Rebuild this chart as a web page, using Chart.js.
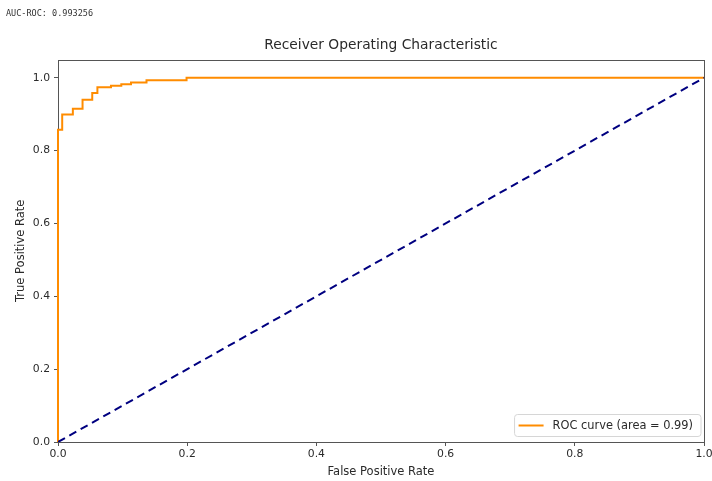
<!DOCTYPE html>
<html>
<head>
<meta charset="utf-8">
<script src="https://cdn.jsdelivr.net/npm/chart.js@4.4.0/dist/chart.umd.min.js"></script>
<style>
  html, body { margin: 0; padding: 0; background: #fff; }
  #wrap { position: relative; width: 712px; height: 481px; }
  #auc { position: absolute; left: 6px; top: 8px; font: 8.5px "DejaVu Sans Mono", monospace; color: #333; white-space: pre; }
  canvas { display: block; }
</style>
</head>
<body>
<div id="wrap">
  <div id="auc">AUC-ROC: 0.993256</div>
  <canvas id="roc" width="712" height="481"></canvas>
</div>
<script>
// ROC curve corners (horizontal then vertical between points)
const fpr = [0, 0, 0.0065, 0.023, 0.038, 0.053, 0.061, 0.082, 0.098, 0.113, 0.137, 0.199, 1.0];
const tpr = [0, 0.857, 0.899, 0.915, 0.940, 0.958, 0.974, 0.978, 0.982, 0.987, 0.993, 1.0, 1.0];
// chance line
const chanceX = [0, 1];
const chanceY = [0, 1];
const xTicks = [0, 0.2, 0.4, 0.6, 0.8, 1.0];
const yTicks = [0, 0.2, 0.4, 0.6, 0.8, 1.0];
const rocLabel = "ROC curve (area = 0.99)";

const FONT = '"DejaVu Sans", sans-serif';
const TXT = "#2a2a2a";
const AX = "#555";

// box around plot area, like matplotlib spines (drawn under the lines)
const frame = {
  id: "frame",
  beforeDatasetsDraw(chart) {
    const { ctx, chartArea: a } = chart;
    ctx.save();
    ctx.strokeStyle = AX;
    ctx.lineWidth = 1;
    ctx.strokeRect(Math.round(a.left) + 0.5, Math.round(a.top) + 0.5,
      Math.round(a.right - a.left), Math.round(a.bottom - a.top));
    ctx.restore();
  }
};

// legend in the lower right corner of the plot
const cornerLegend = {
  id: "cornerLegend",
  afterDraw(chart) {
    const { ctx, chartArea: a } = chart;
    const ds = chart.data.datasets[0];
    ctx.save();
    ctx.font = "11.4px " + FONT;
    const tw = ctx.measureText(ds.label).width;
    const w = tw + 46, h = 22;
    const x = a.right - 3 - w, y = a.bottom - 5.5 - h;
    ctx.beginPath();
    ctx.roundRect(x, y, w, h, 3);
    ctx.fillStyle = "rgba(255,255,255,0.85)";
    ctx.fill();
    ctx.strokeStyle = "#d6d6d6";
    ctx.lineWidth = 1;
    ctx.stroke();
    ctx.beginPath();
    ctx.moveTo(x + 4, y + h / 2);
    ctx.lineTo(x + 29, y + h / 2);
    ctx.strokeStyle = ds.borderColor;
    ctx.lineWidth = 2;
    ctx.stroke();
    ctx.fillStyle = TXT;
    ctx.textBaseline = "middle";
    ctx.fillText(ds.label, x + 38, y + h / 2 + 0.5);
    ctx.restore();
  }
};

new Chart(document.getElementById("roc"), {
  type: "line",
  data: {
    datasets: [
      {
        label: rocLabel,
        data: fpr.map((x, i) => ({ x, y: tpr[i] })),
        borderColor: "#ff8c00",
        borderWidth: 2,
        pointRadius: 0,
        stepped: "before",
        fill: false,
        clip: 2,
        order: 1
      },
      {
        label: "chance",
        data: chanceX.map((x, i) => ({ x, y: chanceY[i] })),
        borderColor: "#000080",
        borderWidth: 2,
        borderDash: [8, 5],
        pointRadius: 0,
        fill: false,
        order: 0
      }
    ]
  },
  options: {
    responsive: false,
    animation: false,
    layout: { padding: { left: 0, right: 8, top: 0, bottom: 0 } },
    plugins: {
      legend: { display: false },
      tooltip: { enabled: false },
      title: {
        display: true,
        fullSize: false,
        text: "Receiver Operating Characteristic",
        color: TXT,
        font: { family: FONT, size: 13.8, weight: "normal" },
        padding: { top: 37, bottom: 6 }
      }
    },
    scales: {
      x: {
        type: "linear",
        min: 0,
        max: 1,
        afterBuildTicks: s => { s.ticks = xTicks.map(v => ({ value: v })); },
        afterFit: s => { s.height = 39; s.paddingLeft = 0; s.paddingRight = 0; },
        ticks: {
          color: TXT, font: { family: FONT, size: 10.8 }, padding: 2,
          maxRotation: 0, autoSkip: false, callback: v => v.toFixed(1)
        },
        grid: { drawOnChartArea: false, drawTicks: true, tickLength: 4, tickColor: AX, color: AX },
        border: { display: false },
        title: {
          display: true, text: "False Positive Rate", color: TXT,
          font: { family: FONT, size: 11.5 }, padding: { top: 2, bottom: 2 }
        }
      },
      y: {
        type: "linear",
        min: 0,
        max: 1.05,
        afterBuildTicks: s => { s.ticks = yTicks.map(v => ({ value: v })); },
        afterFit: s => { s.width = 58; s.paddingTop = 0; s.paddingBottom = 0; },
        ticks: {
          color: TXT, font: { family: FONT, size: 10.8 }, padding: 4,
          autoSkip: false, callback: v => v.toFixed(1)
        },
        grid: { drawOnChartArea: false, drawTicks: true, tickLength: 4, tickColor: AX, color: AX },
        border: { display: false },
        title: {
          display: true, text: "True Positive Rate", color: TXT,
          font: { family: FONT, size: 11.5 }, padding: { top: 14, bottom: 2 }
        }
      }
    }
  },
  plugins: [frame, cornerLegend]
});
</script>
</body>
</html>
